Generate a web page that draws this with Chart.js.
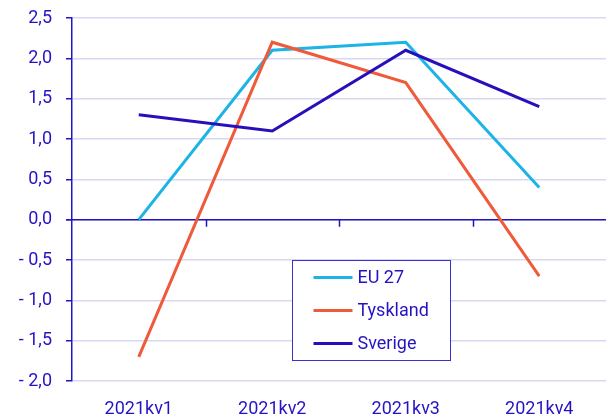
<!DOCTYPE html>
<html>
<head>
<meta charset="utf-8">
<script src="https://cdn.jsdelivr.net/npm/chart.js@4.4.0/dist/chart.umd.min.js"></script>
<style>
  html, body { margin: 0; padding: 0; background: #fff; }
  #wrap { width: 608px; height: 419px; position: relative; }
</style>
</head>
<body>
<div id="wrap"><canvas id="c"></canvas></div>
<script>
const quarters = ['2021kv1', '2021kv2', '2021kv3', '2021kv4'];
const eu27 = [0.0, 2.1, 2.2, 0.4];
const tyskland = [-1.7, 2.2, 1.7, -0.7];
const sverige = [1.3, 1.1, 2.1, 1.4];

const ink = '#2413c4';
const gridCol = '#d9d7f2';

// zero line + small ticks on it, and the boxed legend inside the plot
const extras = {
  id: 'extras',
  beforeDatasetsDraw(chart) {
    const { ctx, chartArea, scales } = chart;
    const y0 = scales.y.getPixelForValue(0);
    ctx.save();
    ctx.strokeStyle = ink;
    ctx.lineWidth = 1.5;
    ctx.beginPath();
    ctx.moveTo(chartArea.left - 6, y0);
    ctx.lineTo(chartArea.right, y0);
    for (let i = 0; i < quarters.length - 1; i++) {
      const x = Math.round((scales.x.getPixelForValue(i) + scales.x.getPixelForValue(i + 1)) / 2) + 0.5;
      ctx.moveTo(x, y0);
      ctx.lineTo(x, y0 + 7);
    }
    ctx.stroke();
    ctx.restore();
  },
  afterDatasetsDraw(chart) {
    const { ctx, chartArea } = chart;
    const bx = chartArea.left + 220.5, by = chartArea.top + 242.5;
    const bw = 158, bh = 100;
    ctx.save();
    ctx.fillStyle = '#fff';
    ctx.fillRect(bx, by, bw, bh);
    ctx.strokeStyle = '#3a2fd0';
    ctx.lineWidth = 1;
    ctx.strokeRect(bx, by, bw, bh);
    ctx.font = '18px Roboto';
    ctx.textBaseline = 'middle';
    chart.data.datasets.forEach((ds, i) => {
      const ry = by + 17 + i * 33;
      ctx.strokeStyle = ds.borderColor;
      ctx.lineWidth = 3;
      ctx.beginPath();
      ctx.moveTo(bx + 21, ry);
      ctx.lineTo(bx + 60, ry);
      ctx.stroke();
      ctx.fillStyle = ink;
      ctx.fillText(ds.label, bx + 65, ry + 1);
    });
    ctx.restore();
  }
};

new Chart(document.getElementById('c'), {
  type: 'line',
  data: {
    labels: quarters,
    datasets: [
      { label: 'EU 27', data: eu27, borderColor: '#1cb3e6', borderWidth: 3, pointRadius: 0, tension: 0, order: 2 },
      { label: 'Tyskland', data: tyskland, borderColor: '#ef5a3a', borderWidth: 3, pointRadius: 0, tension: 0, order: 1 },
      { label: 'Sverige', data: sverige, borderColor: '#2710bc', borderWidth: 3, pointRadius: 0, tension: 0, order: 0 }
    ]
  },
  options: {
    responsive: true,
    maintainAspectRatio: false,
    animation: false,
    layout: { padding: { top: 18, right: 2, left: 0, bottom: 0 } },
    plugins: { legend: { display: false }, tooltip: { enabled: false } },
    scales: {
      x: {
        offset: true,
        grid: { display: false, drawTicks: false },
        border: { display: false },
        ticks: { color: ink, font: { family: 'Roboto', size: 18 }, padding: 18, maxRotation: 0 },
        afterFit(s) { s.height = 38; }
      },
      y: {
        min: -2, max: 2.5,
        ticks: {
          stepSize: 0.5,
          color: ink,
          padding: 14,
          font: { family: 'Roboto', size: 18 },
          callback(v) {
            const s = Math.abs(v).toFixed(1).replace('.', ',');
            return v < 0 ? '- ' + s : s;
          }
        },
        grid: { color: gridCol, tickColor: ink, tickLength: 6, lineWidth: 1.5 },
        border: { color: ink, width: 1.5 },
        afterFit(s) { s.width = 72; s.paddingTop = 0; s.paddingBottom = 0; }
      }
    }
  },
  plugins: [extras]
});
</script>
</body>
</html>
